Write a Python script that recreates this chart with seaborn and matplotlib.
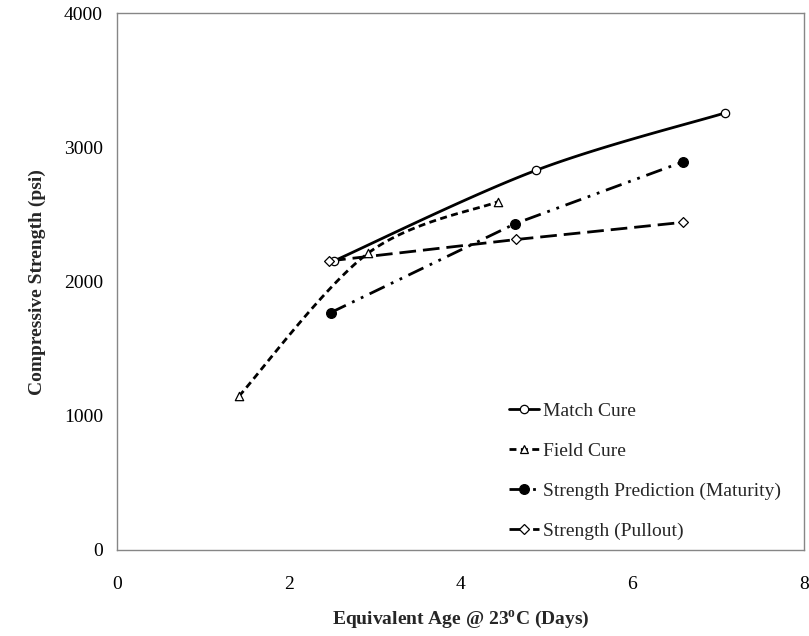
import numpy as np
import pandas as pd
import matplotlib
matplotlib.use("Agg")
import matplotlib.pyplot as plt
from matplotlib.lines import Line2D
import seaborn as sns

# Equivalent age (days) and compressive strength (psi) per method
match_age = [2.53, 4.88, 7.08]
match_psi = [2155, 2830, 3258]
field_age = [1.42, 2.92, 4.44]
field_psi = [1145, 2210, 2597]
maturity_age = [2.49, 4.64, 6.59]
maturity_psi = [1769, 2433, 2893]
pullout_age = [2.47, 4.65, 6.59]
pullout_psi = [2154, 2314, 2442]

labels = ["Match Cure", "Field Cure",
          "Strength Prediction (Maturity)", "Strength (Pullout)"]
x_ticks = [0, 2, 4, 6, 8]
y_ticks = [0, 1000, 2000, 3000, 4000]


def smooth(xs, ys, n=50):
    """Catmull-Rom curve through the given points (ends repeated)."""
    p = np.column_stack([xs, ys]).astype(float)
    p = np.vstack([p[0], p, p[-1]])
    t = np.linspace(0, 1, n)[:, None]
    parts = []
    for i in range(1, len(p) - 2):
        p0, p1, p2, p3 = p[i - 1], p[i], p[i + 1], p[i + 2]
        seg = 0.5 * ((2 * p1) + (-p0 + p2) * t
                     + (2 * p0 - 5 * p1 + 4 * p2 - p3) * t ** 2
                     + (-p0 + 3 * p1 - 3 * p2 + p3) * t ** 3)
        parts.append(seg if i == 1 else seg[1:])
    c = np.vstack(parts)
    return c[:, 0], c[:, 1]


sns.set_style("white")
plt.rcParams["font.family"] = ["Liberation Serif", "DejaVu Serif"]
plt.rcParams["mathtext.fontset"] = "custom"
plt.rcParams["mathtext.rm"] = "Liberation Serif"
plt.rcParams["mathtext.bf"] = "Liberation Serif:bold"

fig = plt.figure(figsize=(8.09, 6.36), dpi=100)
ax = fig.add_axes([0.1446, 0.1357, 0.8492, 0.8431])

lw = 2.0
fs = 14
styles = {
    "Match Cure": dict(ls="-", marker="o", ms=6, mfc="white"),
    "Field Cure": dict(ls=(0, (2.5, 1.6)), marker="^", ms=6, mfc="white"),
    "Strength Prediction (Maturity)": dict(ls=(0, (6, 2.5, 1, 2.5, 1, 2.5)),
                                           marker="o", ms=7, mfc="black"),
    "Strength (Pullout)": dict(ls=(0, (6, 2.5)), marker="D", ms=5, mfc="white"),
}

series = [
    ("Match Cure", match_age, match_psi, True),
    ("Field Cure", field_age, field_psi, True),
    ("Strength Prediction (Maturity)", maturity_age, maturity_psi, False),
    ("Strength (Pullout)", pullout_age, pullout_psi, False),
]

for name, xs, ys, curved in series:
    st = styles[name]
    if curved:
        cx, cy = smooth(xs, ys)
    else:
        cx, cy = np.asarray(xs, float), np.asarray(ys, float)
    line_df = pd.DataFrame({"age": cx, "psi": cy})
    sns.lineplot(data=line_df, x="age", y="psi", sort=False, ax=ax,
                 color="black", lw=lw, linestyle=st["ls"], zorder=2)
    pts = pd.DataFrame({"age": xs, "psi": ys})
    sns.scatterplot(data=pts, x="age", y="psi", ax=ax, marker=st["marker"],
                    s=st["ms"] ** 2, facecolor=st["mfc"], edgecolor="black",
                    linewidth=0.9, zorder=3)

ax.set_xlim(0, 8)
ax.set_ylim(0, 4000)
ax.set_xticks(x_ticks)
ax.set_yticks(y_ticks)
ax.set_xticklabels([str(v) for v in x_ticks])
ax.set_yticklabels([str(v) for v in y_ticks])

for s in ax.spines.values():
    s.set_visible(True)
    s.set_color("#868686")
    s.set_linewidth(1.0)
ax.tick_params(axis="both", direction="out", length=4, width=1,
               color="#868686", labelsize=fs, labelcolor="black")
ax.tick_params(axis="x", pad=15)
ax.tick_params(axis="y", pad=6)

ax.set_xlabel(r"Equivalent Age @ 23$^{\mathbf{o}}$C (Days)",
              fontsize=fs, fontweight="bold", labelpad=11)
ax.set_ylabel("Compressive Strength (psi)", fontsize=fs,
              fontweight="bold", labelpad=13)

handles = []
for name in labels:
    st = styles[name]
    handles.append(Line2D([], [], color="black", lw=lw, linestyle=st["ls"],
                          marker=st["marker"], ms=st["ms"], mfc=st["mfc"],
                          mec="black", mew=0.9))
ax.legend(handles, labels, loc="upper left",
          bbox_to_anchor=(509 / 809, 1 - 402 / 636),
          bbox_transform=fig.transFigure, frameon=False, fontsize=fs,
          handlelength=1.55, handletextpad=0.2, labelspacing=1.15,
          borderpad=0, borderaxespad=0)

fig.savefig("out.png", dpi=100)
